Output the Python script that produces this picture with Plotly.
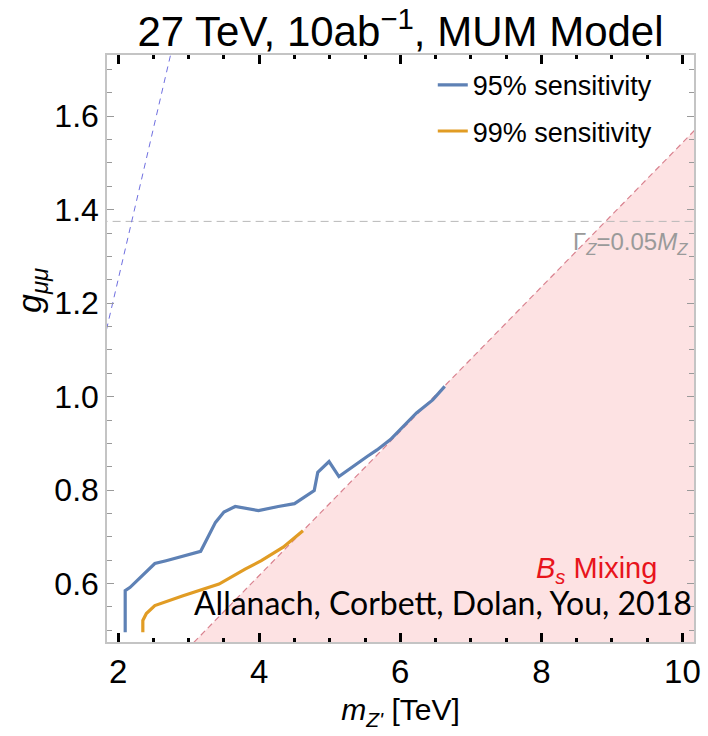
import plotly.graph_objects as go

# 95% sensitivity contour (m_Z' in TeV, g_mumu)
m95 = [2.10, 2.10, 2.17, 2.52, 2.68, 3.17, 3.38, 3.50, 3.66, 3.99, 4.27, 4.50, 4.78,
       4.83, 4.99, 5.13, 5.53, 5.67, 5.86, 6.04, 6.23, 6.46, 6.63]
g95 = [0.496, 0.585, 0.592, 0.643, 0.649, 0.669, 0.731, 0.753, 0.765, 0.756, 0.765,
       0.771, 0.799, 0.838, 0.861, 0.829, 0.872, 0.886, 0.908, 0.936, 0.965, 0.993, 1.022]

# 99% sensitivity contour
m99 = [2.35, 2.35, 2.40, 2.52, 2.92, 3.43, 3.80, 4.03, 4.34, 4.62]
g99 = [0.496, 0.521, 0.536, 0.553, 0.574, 0.599, 0.631, 0.649, 0.678, 0.713]

# B_s mixing bound: g_mumu <= m_Z' / BS_SCALE
BS_SCALE = 6.48
bs_m = [0.0, 12.0]

# Width bound lines
width_m = [1.80, 2.80]
width_g = [1.121, 1.768]
gamma_g = 1.375

BLUE = "#5e81b5"
ORANGE = "#e19c24"

fig = go.Figure()

bs_g = [m / BS_SCALE for m in bs_m]
fig.add_trace(go.Scatter(
    x=[bs_m[0], bs_m[1], bs_m[1]], y=[bs_g[0], bs_g[1], 0.0],
    fill="toself", fillcolor="#fde2e3", mode="lines", line=dict(width=0),
    showlegend=False, hoverinfo="skip"))
fig.add_trace(go.Scatter(
    x=bs_m, y=bs_g, mode="lines",
    line=dict(color="#d9828f", width=1.2, dash="6px,4px"),
    showlegend=False, hoverinfo="skip"))

fig.add_trace(go.Scatter(
    x=[1.0, 12.0], y=[gamma_g, gamma_g], mode="lines",
    line=dict(color="#b8b8b8", width=1, dash="8px,5px"),
    showlegend=False, hoverinfo="skip"))
fig.add_trace(go.Scatter(
    x=width_m, y=width_g, mode="lines",
    line=dict(color="#6f6fe0", width=1, dash="6px,5px"),
    showlegend=False, hoverinfo="skip"))

fig.add_trace(go.Scatter(
    x=m95, y=g95, mode="lines", name="95% sensitivity",
    line=dict(color=BLUE, width=3.2), legendgroup="a"))
fig.add_trace(go.Scatter(
    x=m99, y=g99, mode="lines", name="99% sensitivity",
    line=dict(color=ORANGE, width=3.2), legendgroup="b"))

fig.add_annotation(
    x=10.16, y=0.560, xref="x", yref="y", xanchor="right", yanchor="middle",
    text="Allanach, Corbett, Dolan, You, 2018", showarrow=False,
    font=dict(family="Lato", size=32, color="black"))
fig.add_annotation(
    x=8.78, y=0.630, xref="x", yref="y", xanchor="center", yanchor="middle",
    text="<i>B<sub>s</sub></i> Mixing", showarrow=False,
    font=dict(family="Liberation Sans", size=29, color="#e8141c"))
fig.add_annotation(
    x=10.11, y=1.328, xref="x", yref="y", xanchor="right", yanchor="middle",
    text="Γ<sub><i>Z</i></sub>=0.05<i>M<sub>Z</sub></i>", showarrow=False,
    font=dict(family="Liberation Sans", size=24, color="#9a9a9a"))

# y-axis label placed in pixel terms
plot_left, plot_w = 107, 708 - 107 - 7
plot_bottom, plot_h = 94, 736 - 55 - 94
fig.add_annotation(
    x=(30 - plot_left) / plot_w, y=(736 - 290 - plot_bottom) / plot_h,
    xref="paper", yref="paper", showarrow=False,
    text="<i>g<sub>μμ</sub></i>", textangle=-90,
    xanchor="center", yanchor="middle",
    font=dict(family="Liberation Sans", size=34, color="black"))

fig.update_layout(
    width=708, height=736,
    margin=dict(l=107, r=7, t=55, b=94),
    paper_bgcolor="white", plot_bgcolor="white",
    font=dict(family="Liberation Sans", color="black"),
    title=dict(text="27 TeV, 10ab<sup>−1</sup>, MUM Model", x=0.5, xref="paper",
               xanchor="center", y=0.957, yanchor="middle",
               font=dict(size=42, family="Liberation Sans")),
    legend=dict(x=0.555, y=0.99, xanchor="left", yanchor="top",
                bgcolor="rgba(0,0,0,0)", font=dict(size=27),
                traceorder="grouped", tracegroupgap=8),
    showlegend=True,
)
fig.update_xaxes(
    range=[1.842, 10.164], tickvals=[2, 4, 6, 8, 10],
    ticks="inside", ticklen=9, tickwidth=3, tickcolor="black",
    minor=dict(dtick=0.5, tick0=0, ticks="inside", ticklen=4, tickwidth=3, tickcolor="black"),
    showline=True, linecolor="#c4c4c4", linewidth=1.5, mirror="ticks",
    showgrid=False, zeroline=False,
    tickfont=dict(size=33),
    title=dict(text="<i>m<sub>Z'</sub></i> [TeV]", font=dict(size=30), standoff=10))
fig.update_yaxes(
    range=[0.475, 1.731], tickvals=[0.6, 0.8, 1.0, 1.2, 1.4, 1.6],
    ticktext=["0.6", "0.8", "1.0", "1.2", "1.4", "1.6"],
    ticks="inside", ticklen=7, tickwidth=1, tickcolor="#9a9a9a",
    minor=dict(dtick=0.05, tick0=0, ticks="inside", ticklen=5, tickwidth=1, tickcolor="#9a9a9a"),
    showline=True, linecolor="#c4c4c4", linewidth=1.5, mirror="ticks",
    showgrid=False, zeroline=False,
    tickfont=dict(size=32))

fig.write_html("out.html")
